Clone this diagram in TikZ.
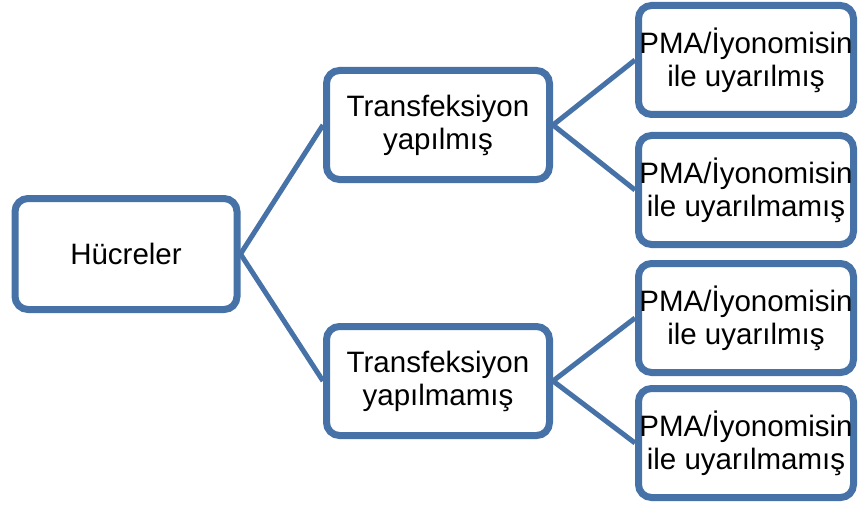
\documentclass[tikz,border=0pt]{standalone}
\usepackage{fontspec}
\setmainfont{Liberation Sans}
\usetikzlibrary{shadows}
\definecolor{boxblue}{RGB}{70,114,168}
\begin{document}
\begin{tikzpicture}[x=1pt,y=-1pt,
  box/.style={draw=boxblue, line width=7pt, rounded corners=13pt, fill=white,
    align=center, inner sep=0pt, font=\fontsize{29.5}{33}\selectfont,
    drop shadow={shadow xshift=2pt, shadow yshift=-3pt, opacity=0.25, fill=black}},
  lbox/.style={box, minimum width=222pt, minimum height=111pt},
  mbox/.style={box, minimum width=223pt, minimum height=109pt},
  rbox/.style={box, minimum width=215pt, minimum height=109pt},
  conn/.style={draw=boxblue, line width=5pt}]
\useasboundingbox (0,0) rectangle (859,508);
\node[lbox] (h) at (126,254) {Hücreler};
\node[mbox] (t1) at (438,125) {Transfeksiyon\\yapılmış};
\node[mbox] (t2) at (438,381) {Transfeksiyon\\yapılmamış};
\node[rbox] (r1) at (746,60) {PMA/İyonomisin\\ile uyarılmış};
\node[rbox] (r2) at (746,190) {PMA/İyonomisin\\ile uyarılmamış};
\node[rbox] (r3) at (746,318) {PMA/İyonomisin\\ile uyarılmış};
\node[rbox] (r4) at (746,443) {PMA/İyonomisin\\ile uyarılmamış};
\draw[conn] (h.east) -- (t1.west);
\draw[conn] (h.east) -- (t2.west);
\draw[conn] (t1.east) -- (r1.west);
\draw[conn] (t1.east) -- (r2.west);
\draw[conn] (t2.east) -- (r3.west);
\draw[conn] (t2.east) -- (r4.west);
\end{tikzpicture}
\end{document}
